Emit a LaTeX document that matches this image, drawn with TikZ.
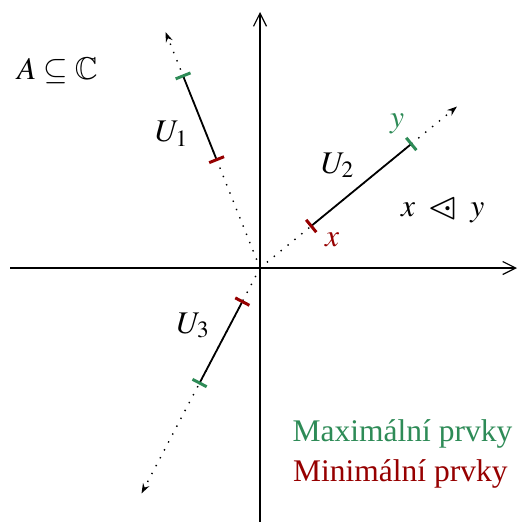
\documentclass[tikz,border=0pt]{standalone}
\usepackage{mathptmx}
\usepackage{amssymb}
\usepackage{graphicx}
\usepackage[no-math]{fontspec}
\setmainfont{Liberation Serif}
\usetikzlibrary{arrows.meta,calc}
\definecolor{maxc}{RGB}{46,139,87}
\definecolor{minc}{RGB}{150,0,0}
\newcommand{\dotlhdbase}{\ooalign{$\vartriangleleft$\cr\hfil$\cdot$\hfil\kern-0.26em\cr}}
\newcommand{\dotlhd}{\mathrel{\raisebox{-0.06em}{\scalebox{1.25}{\dotlhdbase}}}}
\newcommand{\mytick}[3]{\draw[#3] ($(#1)!8pt!90:(#2)$) -- ($(#1)!8pt!-90:(#2)$);}
\begin{document}
\begin{tikzpicture}[x=1pt,y=-1pt,
  every node/.style={font=\fontsize{31.5}{38}\selectfont, inner sep=0pt},
  axis/.style={line width=1.2pt, -{Straight Barb[length=13pt,width=13pt,line width=1.2pt]}},
  ray/.style={line width=1.4pt, dash pattern=on 1.4pt off 7.5pt, -{Stealth[length=10pt,width=7pt]}},
  seg/.style={line width=1.8pt},
  maxtick/.style={line width=3pt, maxc},
  mintick/.style={line width=3pt, minc}]
\useasboundingbox (0,0) rectangle (518,522);
\coordinate (O) at (260,268);
\coordinate (XL) at (10,268);
\coordinate (XR) at (517,268);
\coordinate (YB) at (260,522);
\coordinate (YT) at (260,12);
\draw[axis] (XL) -- (XR);
\draw[axis] (YB) -- (YT);
% rays
\coordinate (T1) at (165.5,32);
\coordinate (T2) at (457,106.5);
\coordinate (T3) at (141.5,493.5);
\coordinate (G1) at ($(O)!0.814!(T1)$);
\coordinate (R1) at ($(O)!0.459!(T1)$);
\coordinate (G2) at ($(O)!0.768!(T2)$);
\coordinate (R2) at ($(O)!0.26!(T2)$);
\coordinate (G3) at ($(O)!0.51!(T3)$);
\coordinate (R3) at ($(O)!0.149!(T3)$);
\draw[ray] (O) -- (T1);
\draw[ray] (O) -- (T2);
\draw[ray] (O) -- (T3);
\draw[seg] (R1) -- (G1);
\draw[seg] (R2) -- (G2);
\draw[seg] (R3) -- (G3);
\mytick{G1}{T1}{maxtick}
\mytick{R1}{T1}{mintick}
\mytick{G2}{T2}{maxtick}
\mytick{R2}{T2}{mintick}
\mytick{G3}{T3}{maxtick}
\mytick{R3}{T3}{mintick}
% labels
\node[anchor=base west] (A) at (17,79) {$A \subseteq \mathbb{C}$};
\node[anchor=base west] (U1) at (155,141.5) {$U_1$};
\node[anchor=base west] (U2) at (321,173) {$U_2$};
\node[anchor=base west] (U3) at (176.5,333) {$U_3$};
\node[anchor=base west, text=maxc] (ylab) at (390,127) {$y$};
\node[anchor=base west, text=minc] (xlab) at (325,246.5) {$x$};
\node[anchor=base west] (rel) at (401,216.5) {$x\mkern3mu\dotlhd\mkern3mu y$};
\node[anchor=base west, text=maxc] (leg1) at (292.5,441.5) {Maximální prvky};
\node[anchor=base west, text=minc] (leg2) at (293,481.5) {Minimální prvky};
\end{tikzpicture}
\end{document}
